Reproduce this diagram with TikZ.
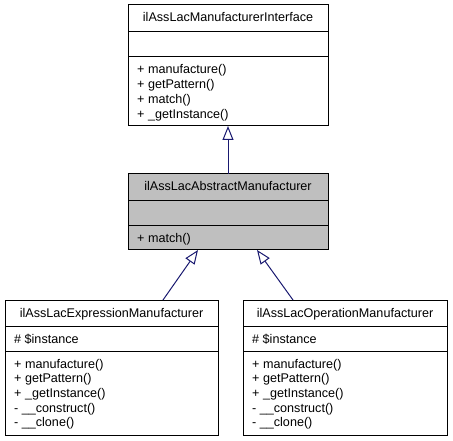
\documentclass[tikz,border=0pt]{standalone}
\usepackage{fontspec}
\setmainfont{Liberation Sans}
\usetikzlibrary{arrows.meta}
\definecolor{edgeblue}{HTML}{191970}
\definecolor{absgray}{HTML}{BFBFBF}
\begin{document}
\begin{tikzpicture}[x=1pt,y=-1pt,
  classbox/.style={draw=black,line width=1pt,anchor=north west,inner sep=0pt,outer sep=0pt},
  txt/.style={inner sep=0pt,anchor=base west,font=\fontsize{12.6}{15}\selectfont},
  ttl/.style={inner sep=0pt,anchor=base,font=\fontsize{12.6}{15}\selectfont},
  sep/.style={draw=black,line width=1pt},
  inherit/.style={draw=edgeblue,line width=1pt,-{Triangle[open,length=14pt,width=11pt]}}]
\useasboundingbox (0,0) rectangle (453,441);
% interface
\node[classbox,fill=white,minimum width=200pt,minimum height=121pt] (iface) at (128,5) {};
\draw[sep] (128,32) -- (328,32);
\draw[sep] (128,57) -- (328,57);
\node[ttl] (ifaceT) at (228,22) {ilAssLacManufacturerInterface};
\node[txt] (ifaceM1) at (137,74) {+ manufacture()};
\node[txt] (ifaceM2) at (137,88.7) {+ getPattern()};
\node[txt] (ifaceM3) at (137,103.4) {+ match()};
\node[txt] (ifaceM4) at (137,118.1) {+ \_getInstance()};
% abstract
\node[classbox,fill=absgray,minimum width=200pt,minimum height=76pt] (abs) at (128,174) {};
\draw[sep] (128,201) -- (328,201);
\draw[sep] (128,226) -- (328,226);
\node[ttl] (absT) at (228,191) {ilAssLacAbstractManufacturer};
\node[txt] (absM1) at (137,243) {+ match()};
% expression
\node[classbox,fill=white,minimum width=213pt,minimum height=135pt] (expr) at (5,300) {};
\draw[sep] (5,326) -- (218,326);
\draw[sep] (5,351) -- (218,351);
\node[ttl] (exprT) at (111.5,317) {ilAssLacExpressionManufacturer};
\node[txt] (exprA1) at (14,343) {\# \$instance};
\node[txt] (exprM1) at (14,368) {+ manufacture()};
\node[txt] (exprM2) at (14,382.7) {+ getPattern()};
\node[txt] (exprM3) at (14,397.4) {+ \_getInstance()};
\node[txt] (exprM4) at (14,412.1) {- \_\_construct()};
\node[txt] (exprM5) at (14,426.8) {- \_\_clone()};
% operation
\node[classbox,fill=white,minimum width=204pt,minimum height=135pt] (oper) at (243,300) {};
\draw[sep] (243,326) -- (447,326);
\draw[sep] (243,351) -- (447,351);
\node[ttl] (operT) at (345,317) {ilAssLacOperationManufacturer};
\node[txt] (operA1) at (252,343) {\# \$instance};
\node[txt] (operM1) at (252,368) {+ manufacture()};
\node[txt] (operM2) at (252,382.7) {+ getPattern()};
\node[txt] (operM3) at (252,397.4) {+ \_getInstance()};
\node[txt] (operM4) at (252,412.1) {- \_\_construct()};
\node[txt] (operM5) at (252,426.8) {- \_\_clone()};
% inheritance
\coordinate (absTop) at (228,174);
\coordinate (ifaceBot) at (228,126);
\coordinate (exprTop) at (163,300);
\coordinate (absBotL) at (198,250);
\coordinate (operTop) at (293,300);
\coordinate (absBotR) at (257,250);
\draw[inherit] (absTop) -- (ifaceBot);
\draw[inherit] (exprTop) -- (absBotL);
\draw[inherit] (operTop) -- (absBotR);
\end{tikzpicture}
\end{document}
